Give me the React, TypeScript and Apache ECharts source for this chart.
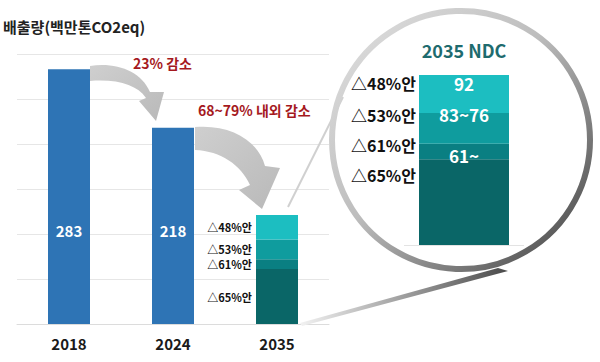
import React, { useEffect, useRef } from 'react';
import * as echarts from 'echarts';

// ---------- data ----------
const yTitle = '배출량(백만톤CO2eq)';
const categories = ['2018', '2024', '2035'];
const emissions = [283, 218];
const ndcScenarios = ['△65%안', '△61%안', '△53%안', '△48%안'];
const ndcSegments = [61, 11, 22, 27];
const ndcValueLabels = ['', '61~', '83~76', '92'];
const zoomCategory = ['2035 NDC'];
const annotations = ['23% 감소', '68~79% 내외 감소'];
const yMin = 0;
const yMax = 300;
const yInterval = 50;

// ---------- styles / layout ----------
const FONT = '"Noto Sans CJK KR", "Noto Sans", sans-serif';
const blue = '#2E74B5';
const segColors = ['#0A6667', '#0A7F82', '#0F9C9E', '#1CBEC1'];
const bigLabelOffsets = [16, 1, 2, 8];
const valueLabelOffsets = [0, 12, 2, 8];

const arrowPathA =
  'M90 66 C116 62 141 71 150 92 L164 92 L156 121 L139 101 L146 98 C137 85 118 79 90 81 Z';
const arrowPathB =
  'M195 127 C230 124 258 140 265 166 L280 168 L262 209 L239 190 L250 185 C241 165 221 151 195 150 Z';

echarts.graphic.registerShape('arrowA', echarts.graphic.extendPath(arrowPathA, {}));
echarts.graphic.registerShape('arrowB', echarts.graphic.extendPath(arrowPathB, {}));

const grayGrad = () =>
  new echarts.graphic.LinearGradient(0, 0, 1, 1, [
    { offset: 0, color: '#cfcfcf' },
    { offset: 1, color: '#b9b9b9' },
  ]);

export default function App() {
  const ref = useRef<HTMLDivElement>(null);

  useEffect(() => {
    if (!ref.current) return;
    const chart = echarts.init(ref.current, null, { renderer: 'svg' });
    const bigMax = ndcSegments.reduce((a, b) => a + b, 0);

    const smallSeries = ndcSegments.map((v, i) => ({
      type: 'bar',
      name: ndcScenarios[i],
      stack: 'ndc',
      xAxisIndex: 0,
      yAxisIndex: 0,
      barWidth: 42,
      barGap: '-100%',
      data: categories.map((c, k) => (k === categories.length - 1 ? v : '-')),
      itemStyle: { color: segColors[i] },
      label: {
        show: true,
        position: 'left',
        distance: 4,
        formatter: ndcScenarios[i],
        fontFamily: FONT,
        fontSize: 11,
        fontWeight: 'bold',
        color: '#111',
      },
    }));

    const bigSeries = ndcSegments.map((v, i) => ({
      type: 'bar',
      name: 'big' + ndcScenarios[i],
      stack: 'big',
      xAxisIndex: 1,
      yAxisIndex: 1,
      barWidth: 90,
      barGap: '-100%',
      data: [v],
      itemStyle: { color: segColors[i] },
      label: {
        show: true,
        position: [-3, bigLabelOffsets[i]],
        align: 'right',
        verticalAlign: 'middle',
        formatter: ndcScenarios[i],
        fontFamily: FONT,
        fontSize: 16,
        fontWeight: 'bold',
        color: '#111',
      },
      markLine:
        i === 0
          ? {
              silent: true,
              symbol: 'none',
              label: { show: false },
              lineStyle: { color: '#e3e3e3', type: 'solid', width: 1 },
              data: [{ yAxis: 0 }],
            }
          : undefined,
    }));

    const valueSeries = ndcSegments.map((v, i) => ({
      type: 'bar',
      name: 'val' + ndcScenarios[i],
      stack: 'bigVal',
      xAxisIndex: 1,
      yAxisIndex: 1,
      barWidth: 90,
      barGap: '-100%',
      data: [v],
      itemStyle: { color: 'rgba(0,0,0,0)' },
      label: {
        show: ndcValueLabels[i] !== '',
        position: [45, valueLabelOffsets[i]],
        align: 'center',
        verticalAlign: 'middle',
        formatter: ndcValueLabels[i],
        fontFamily: FONT,
        fontSize: 17,
        fontWeight: 'bold',
        color: '#ffffff',
      },
    }));

    chart.setOption({
      animation: false,
      backgroundColor: '#ffffff',
      textStyle: { fontFamily: FONT },
      grid: [
        { left: 17, width: 312, top: 54, bottom: 38 },
        { left: 404, width: 120, top: 75, bottom: 117 },
      ],
      xAxis: [
        {
          type: 'category',
          gridIndex: 0,
          data: categories,
          axisLine: { lineStyle: { color: '#dcdcdc' } },
          axisTick: { show: false },
          axisLabel: {
            margin: 12,
            fontFamily: FONT,
            fontSize: 15,
            fontWeight: 'bold',
            color: '#1a1a1a',
          },
        },
        {
          type: 'category',
          gridIndex: 1,
          position: 'top',
          data: zoomCategory,
          axisLine: { show: false },
          axisTick: { show: false },
          axisLabel: {
            margin: 16,
            fontFamily: FONT,
            fontSize: 18,
            fontWeight: 'bold',
            color: '#1E6B6E',
          },
        },
      ],
      yAxis: [
        {
          type: 'value',
          gridIndex: 0,
          min: yMin,
          max: yMax,
          interval: yInterval,
          axisLabel: { show: false },
          axisLine: { show: false },
          axisTick: { show: false },
          splitLine: { lineStyle: { color: '#e6e6e6' } },
        },
        {
          type: 'value',
          gridIndex: 1,
          min: 0,
          max: bigMax,
          show: false,
          splitLine: { show: false },
        },
      ],
      series: [
        {
          type: 'bar',
          name: '배출량',
          xAxisIndex: 0,
          yAxisIndex: 0,
          barWidth: 42,
          barGap: '-100%',
          data: categories.map((c, k) => (k < emissions.length ? emissions[k] : '-')),
          itemStyle: { color: blue },
          label: {
            show: true,
            position: 'insideBottom',
            distance: 86,
            formatter: '{c}',
            fontFamily: FONT,
            fontSize: 15,
            fontWeight: 'bold',
            color: '#ffffff',
          },
        },
        ...smallSeries,
        ...bigSeries,
        ...valueSeries,
      ],
      graphic: [
        {
          type: 'text',
          left: 3,
          top: 19,
          z: 10,
          style: {
            text: yTitle,
            font: `bold 15px ${FONT}`,
            fill: '#222',
          },
        },
        {
          type: 'arrowA',
          x: 0,
          y: 0,
          z: 5,
          style: { fill: grayGrad() },
        },
        {
          type: 'arrowB',
          x: 0,
          y: 0,
          z: 5,
          style: { fill: grayGrad() },
        },
        {
          type: 'text',
          x: 133,
          y: 63,
          z: 10,
          style: {
            text: annotations[0],
            font: `bold 14px ${FONT}`,
            fill: '#A5191E',
            verticalAlign: 'middle',
          },
        },
        {
          type: 'text',
          x: 198,
          y: 110,
          z: 10,
          style: {
            text: annotations[1],
            font: `bold 14px ${FONT}`,
            fill: '#A5191E',
            verticalAlign: 'middle',
          },
        },
        {
          type: 'circle',
          z: 4,
          shape: { cx: 461, cy: 140, r: 129 },
          style: {
            fill: 'none',
            lineWidth: 6,
            stroke: new echarts.graphic.LinearGradient(0, 0, 1, 1, [
              { offset: 0, color: '#e2e2e2' },
              { offset: 0.45, color: '#bdbdbd' },
              { offset: 0.8, color: '#6b6b6b' },
              { offset: 1, color: '#3e3e3e' },
            ]),
          },
        },
        {
          type: 'polygon',
          z: 3,
          shape: {
            points: [
              [300, 323],
              [498, 268],
              [508, 271],
              [302, 326],
            ],
          },
          style: {
            fill: new echarts.graphic.LinearGradient(0, 0, 1, 0, [
              { offset: 0, color: '#f2f2f2' },
              { offset: 1, color: '#4a4a4a' },
            ]),
          },
        },
        {
          type: 'line',
          z: 3,
          shape: { x1: 288, y1: 207, x2: 343, y2: 97 },
          style: { stroke: '#d0d0d0', lineWidth: 2 },
        },
      ],
    });

    return () => chart.dispose();
  }, []);

  return (
    <div
      ref={ref}
      style={{ position: 'fixed', left: 0, top: 0, width: 600, height: 362 }}
    />
  );
}
